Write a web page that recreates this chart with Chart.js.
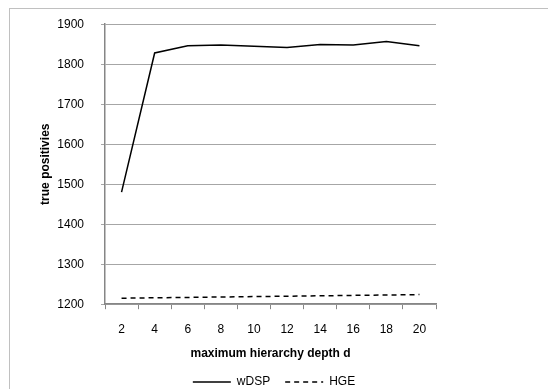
<!DOCTYPE html>
<html>
<head>
<meta charset="utf-8">
<script src="https://cdn.jsdelivr.net/npm/chart.js@4"></script>
<style>
  html, body { margin: 0; padding: 0; background: #fff; overflow: hidden; }
  #frame { position: absolute; left: 9px; top: 8px; width: 600px; height: 400px; border: 1px solid #c0c0c0; z-index: 2; pointer-events: none; }
  #wrap { position: absolute; left: 0; top: 0; width: 548px; height: 389px; }
</style>
</head>
<body>
<div id="frame"></div>
<div id="wrap"><canvas id="chart"></canvas></div>
<script>
const depths = ['2', '4', '6', '8', '10', '12', '14', '16', '18', '20'];
const wdsp = [1480, 1828, 1846, 1848, 1845, 1842, 1849, 1848, 1857, 1846];
const hge = [1215, 1216, 1217, 1218, 1219, 1220, 1221, 1222, 1223, 1224];
const yTicks = [1200, 1300, 1400, 1500, 1600, 1700, 1800, 1900];

const tickFont = { family: "'Liberation Sans', sans-serif", size: 12 };
const titleFont = { family: "'Liberation Sans', sans-serif", size: 12, weight: 'bold' };

new Chart(document.getElementById('chart'), {
    type: 'line',
    data: {
        labels: depths,
        datasets: [{
            label: 'wDSP',
            data: wdsp,
            borderColor: '#000',
            backgroundColor: '#000',
            borderWidth: 1.5,
            pointRadius: 0,
            tension: 0
        }, {
            label: 'HGE',
            data: hge,
            borderColor: '#000',
            backgroundColor: '#000',
            borderWidth: 1.5,
            borderDash: [5, 4],
            pointRadius: 0,
            tension: 0
        }]
    },
    options: {
        responsive: true,
        maintainAspectRatio: false,
        animation: false,
        layout: { padding: { left: 0, right: 0, top: 24, bottom: -9 } },
        plugins: {
            tooltip: { enabled: false },
            legend: {
                position: 'bottom',
                labels: {
                    usePointStyle: true,
                    pointStyle: 'line',
                    pointStyleWidth: 38,
                    color: '#000',
                    font: tickFont,
                    padding: 15,
                    generateLabels: chart => chart.data.datasets.map((ds, i) => ({
                        text: ds.label,
                        datasetIndex: i,
                        fillStyle: ds.borderColor,
                        strokeStyle: ds.borderColor,
                        lineWidth: ds.borderWidth,
                        lineDash: ds.borderDash || [],
                        pointStyle: 'line',
                        fontColor: '#000',
                        hidden: false
                    }))
                }
            }
        },
        scales: {
            x: {
                offset: true,
                grid: { display: true, drawOnChartArea: false, offset: true, color: '#868686', tickLength: 5 },
                border: { color: '#868686', width: 1.5 },
                ticks: { color: '#000', font: tickFont, padding: 13, maxRotation: 0 },
                title: { display: true, text: 'maximum hierarchy depth d', color: '#000', font: titleFont, padding: { top: -3, bottom: 0 } }
            },
            y: {
                min: 1200,
                max: 1900,
                afterBuildTicks: axis => { axis.ticks = yTicks.map(v => ({ value: v })); },
                afterFit: axis => { axis.width = 105; },
                grid: { color: '#a6a6a6', tickLength: 4 },
                border: { color: '#868686', width: 1.5 },
                ticks: { color: '#000', font: tickFont, padding: 17, callback: v => String(v) },
                title: { display: true, text: 'true positivies', color: '#000', font: titleFont, padding: { top: 38, bottom: 0 } }
            },
            pad: {
                position: 'right',
                afterFit: axis => { axis.width = 112; },
                grid: { display: false },
                border: { display: false },
                ticks: { display: false }
            }
        }
    }
});
</script>
</body>
</html>
